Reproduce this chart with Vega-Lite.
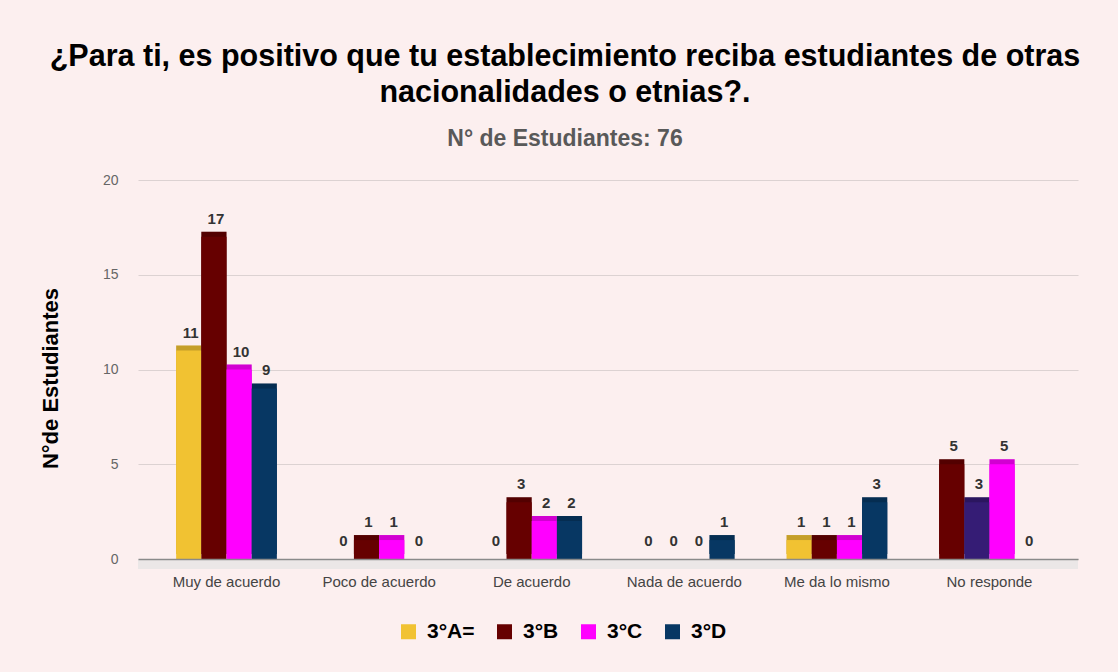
{
  "$schema": "https://vega.github.io/schema/vega-lite/v6.json",
  "width": 940,
  "height": 379,
  "autosize": {"type": "none"},
  "padding": {"left": 138, "top": 180, "right": 40, "bottom": 113},
  "background": "#fcefef",
  "config": {"view": {"stroke": null}, "font": "Liberation Sans"},
  "title": {
    "text": ["¿Para ti, es positivo que tu establecimiento reciba estudiantes de otras", "nacionalidades o etnias?."],
    "subtitle": "N° de Estudiantes: 76",
    "frame": "group",
    "anchor": "middle",
    "dx": -43,
    "offset": 22,
    "font": "Liberation Sans",
    "fontSize": 30.5,
    "fontWeight": "bold",
    "color": "#000000",
    "lineHeight": 36,
    "subtitleFont": "Liberation Sans",
    "subtitleFontSize": 23,
    "subtitleFontWeight": "bold",
    "subtitleColor": "#595959",
    "subtitlePadding": 20
  },
  "data": {
    "values": [
      {"cat": "Muy de acuerdo", "serie": "3°A=", "n": 11},
      {"cat": "Muy de acuerdo", "serie": "3°B", "n": 17},
      {"cat": "Muy de acuerdo", "serie": "3°C", "n": 10},
      {"cat": "Muy de acuerdo", "serie": "3°D", "n": 9},
      {"cat": "Poco de acuerdo", "serie": "3°A=", "n": 0},
      {"cat": "Poco de acuerdo", "serie": "3°B", "n": 1},
      {"cat": "Poco de acuerdo", "serie": "3°C", "n": 1},
      {"cat": "Poco de acuerdo", "serie": "3°D", "n": 0},
      {"cat": "De acuerdo", "serie": "3°A=", "n": 0},
      {"cat": "De acuerdo", "serie": "3°B", "n": 3},
      {"cat": "De acuerdo", "serie": "3°C", "n": 2},
      {"cat": "De acuerdo", "serie": "3°D", "n": 2},
      {"cat": "Nada de acuerdo", "serie": "3°A=", "n": 0},
      {"cat": "Nada de acuerdo", "serie": "3°B", "n": 0},
      {"cat": "Nada de acuerdo", "serie": "3°C", "n": 0},
      {"cat": "Nada de acuerdo", "serie": "3°D", "n": 1},
      {"cat": "Me da lo mismo", "serie": "3°A=", "n": 1},
      {"cat": "Me da lo mismo", "serie": "3°B", "n": 1},
      {"cat": "Me da lo mismo", "serie": "3°C", "n": 1},
      {"cat": "Me da lo mismo", "serie": "3°D", "n": 3},
      {"cat": "No responde", "serie": "3°A=", "n": 5},
      {"cat": "No responde", "serie": "3°B", "n": 3},
      {"cat": "No responde", "serie": "3°C", "n": 5},
      {"cat": "No responde", "serie": "3°D", "n": 0}
    ]
  },
  "layer": [
    {
      "mark": {"type": "rule", "color": "#ebe7e7", "strokeWidth": 10, "yOffset": 5},
      "encoding": {"y": {"datum": 0, "type": "quantitative"}}
    },
    {
      "encoding": {
        "x": {
          "field": "cat", "type": "nominal",
          "sort": ["Muy de acuerdo", "Poco de acuerdo", "De acuerdo", "Nada de acuerdo", "Me da lo mismo", "No responde"],
          "scale": {"paddingInner": 0.34, "paddingOuter": 0.25},
          "axis": {"title": null, "labelAngle": 0, "domain": true, "domainColor": "#8a8a8a", "domainWidth": 1.5, "ticks": false, "grid": false, "labelPadding": 15, "labelFontSize": 15, "labelColor": "#444444", "labelFont": "Liberation Sans", "zindex": 1}
        },
        "xOffset": {"field": "serie", "type": "nominal", "sort": ["3°A=", "3°B", "3°C", "3°D"]},
        "y": {
          "field": "n", "type": "quantitative",
          "scale": {"domain": [0, 20]},
          "axis": {"title": "N°de Estudiantes", "titleY": 198, "values": [0, 5, 10, 15, 20], "domain": false, "ticks": false, "grid": true, "gridColor": "#dcd2d2", "gridWidth": 1.2, "labelPadding": 20, "labelFontSize": 14, "labelColor": "#666666", "labelFont": "Liberation Sans", "titleFontSize": 22, "titleFontWeight": "bold", "titleColor": "#000000", "titleFont": "Liberation Sans", "titlePadding": 40}
        },
        "color": {
          "field": "serie",
          "type": "nominal",
          "scale": {"domain": ["3°A=", "3°B", "3°C", "3°D"], "range": ["#f1c232", "#660000", "#ff00ff", "#073763"]},
          "condition": [
            {"test": "datum.cat === 'No responde' && datum.serie === '3°A='", "value": "#660000"},
            {"test": "datum.cat === 'No responde' && datum.serie === '3°B'", "value": "#351c75"}
          ],
          "legend": {
            "title": null,
            "orient": "none",
            "legendX": 260,
            "legendY": 441,
            "direction": "horizontal",
            "symbolType": "square",
            "symbolSize": 225,
            "symbolStrokeWidth": 0,
            "labelFontSize": 21,
            "labelFontWeight": "bold",
            "labelColor": "#000000",
            "labelFont": "Liberation Sans",
            "labelOffset": 8,
            "columnPadding": 19,
            "padding": 0
          }
        }
      },
      "layer": [
        {
          "mark": {"type": "bar", "yOffset": -5, "y2Offset": -5}
        },
        {
          "mark": {"type": "bar", "yOffset": -5, "y2Offset": -5, "color": "#000000", "opacity": 0.18},
          "encoding": {"color": {"value": "#000000"}}
        },
        {
          "mark": {"type": "bar"}
        },
        {
          "mark": {"type": "text", "fontWeight": "bold", "fontSize": 15, "color": "#333333", "baseline": "bottom", "dy": -10, "dx": 2, "font": "Liberation Sans"},
          "encoding": {
            "color": {"value": "#333333"},
            "text": {"field": "n", "type": "quantitative"}
          }
        }
      ]
    }
  ]
}
